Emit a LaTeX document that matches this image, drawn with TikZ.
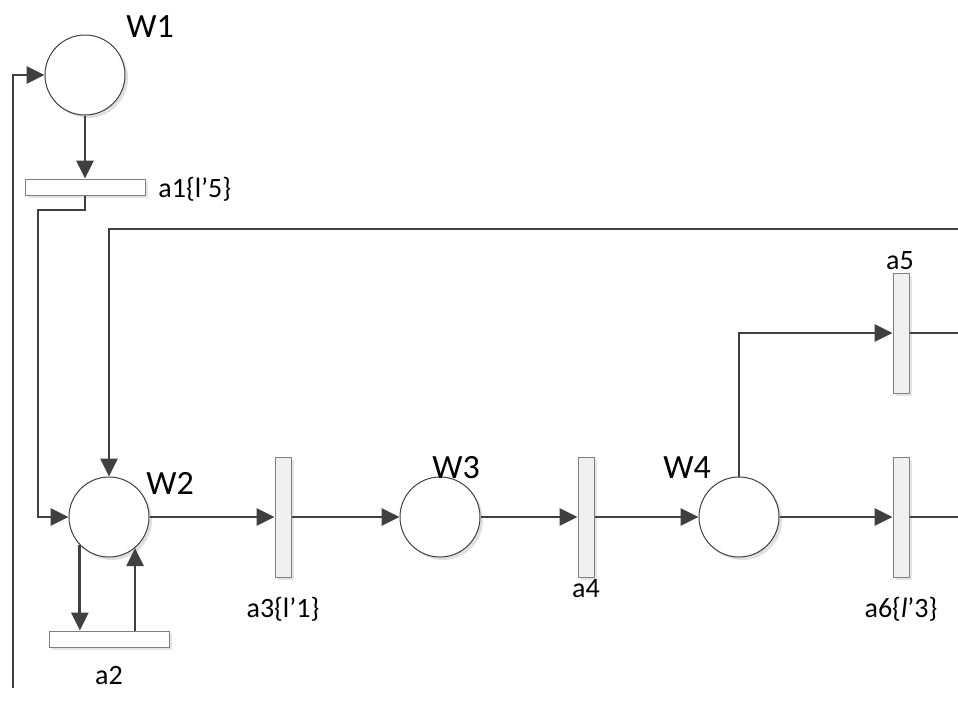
\documentclass[tikz,border=0pt]{standalone}
\usepackage{fontspec}
\setmainfont{Carlito}
\usetikzlibrary{arrows.meta,shadows}
\definecolor{linegray}{HTML}{404040}
\definecolor{bargray}{HTML}{F0F0F0}
\definecolor{barline}{HTML}{7F7F7F}

\begin{document}
\begin{tikzpicture}[x=0.5pt, y=-0.5pt, >={Triangle[length=9pt,width=8.5pt]},
		place/.style={circle, draw=linegray, line width=0.5pt, fill=white, minimum size=40pt, inner sep=0pt,
			drop shadow={shadow xshift=1.5pt, shadow yshift=-1.5pt, fill=black!12, opacity=1}},
		hbar/.style={rectangle, draw=barline, line width=0.5pt, fill=white, minimum width=60pt, minimum height=8pt, inner sep=0pt,
			drop shadow={shadow xshift=1.5pt, shadow yshift=-1.5pt, fill=black!10, opacity=1}},
		vbar/.style={hbar, fill=bargray, minimum width=8pt, minimum height=60pt},
		flow/.style={draw=linegray, line width=1.4pt},
		bigtxt/.style={font=\fontsize{17}{20}\selectfont, inner sep=0pt},
		smalltxt/.style={font=\fontsize{14}{16}\selectfont, inner sep=0pt}]
		% Frame of the picture
		\useasboundingbox (0,0) rectangle (958,714);

		% Places
		\node[place] (W1) at (85,75) {};
		\node[place] (W2) at (109,517) {};
		\node[place] (W3) at (440,517) {};
		\node[place] (W4) at (739,517) {};

		% Transitions
		\node[hbar] (a1) at (85,187) {};
		\node[hbar] (a2) at (109,639) {};
		\node[vbar] (a3) at (283,517) {};
		\node[vbar] (a4) at (586,517) {};
		\node[vbar] (a5) at (901,333) {};
		\node[vbar] (a6) at (901,517) {};

		% Labels
		\node[bigtxt] (W1lab) at (150,27) {W1};
		\node[bigtxt] (W2lab) at (170,483) {W2};
		\node[bigtxt] (W3lab) at (456,468) {W3};
		\node[bigtxt] (W4lab) at (687,468) {W4};
		\node[smalltxt, anchor=west] (a1lab) at (158,189) {a1\{l’5\}};
		\node[smalltxt] (a2lab) at (109,675) {a2};
		\node[smalltxt] (a3lab) at (283,609) {a3\{l’1\}};
		\node[smalltxt] (a4lab) at (586,589) {a4};
		\node[smalltxt] (a5lab) at (900,261) {a5};
		\node[smalltxt] (a6lab) at (901,609) {a6\{\textit{l}’3\}};

		% Loose ends at the edges
		\coordinate (loopB) at (13,688);
		\coordinate (a1turn) at (38,210);
		\coordinate (topR) at (958,229);
		\coordinate (a5out) at (958,333);
		\coordinate (a6out) at (958,517);

		% Arcs
		\draw[flow,->] (loopB) |- (W1.west);
		\draw[flow,->] (W1.south) -- (a1.north);
		\draw[flow,->] (a1.south) |- (a1turn) |- (W2.west);
		\draw[flow,->] (topR) -| (W2.north);
		\draw[flow,->] (W2.224) -- (W2.224 |- a2.north);
		\draw[flow,->] (W2.310 |- a2.north) -- (W2.310);
		\draw[flow,->] (W2.east) -- (a3.west);
		\draw[flow,->] (a3.east) -- (W3.west);
		\draw[flow,->] (W3.east) -- (a4.west);
		\draw[flow,->] (a4.east) -- (W4.west);
		\draw[flow,->] (W4.north) |- (a5.west);
		\draw[flow,->] (W4.east) -- (a6.west);
		\draw[flow] (a5.east) -- (a5out);
		\draw[flow] (a6.east) -- (a6out);
	\end{tikzpicture}
\end{document}
